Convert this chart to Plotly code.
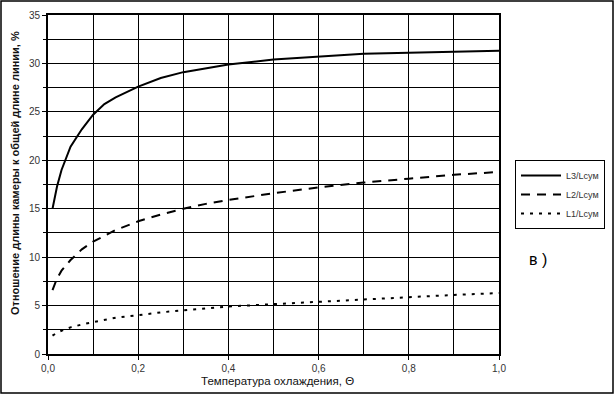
import plotly.graph_objects as go

theta = [0.01, 0.02, 0.03, 0.05, 0.075, 0.1, 0.125, 0.15, 0.2, 0.25, 0.3, 0.35, 0.4, 0.5, 0.6, 0.7, 0.8, 0.9, 1.0]
l3 = [15.0, 17.3, 19.0, 21.4, 23.2, 24.7, 25.8, 26.5, 27.6, 28.5, 29.1, 29.5, 29.9, 30.4, 30.7, 31.0, 31.1, 31.2, 31.3]
l2 = [6.6, 7.8, 8.6, 9.7, 10.8, 11.6, 12.2, 12.8, 13.7, 14.4, 15.0, 15.5, 15.9, 16.6, 17.2, 17.7, 18.1, 18.5, 18.8]
l1 = [1.9, 2.2, 2.4, 2.75, 3.05, 3.3, 3.55, 3.75, 4.0, 4.3, 4.5, 4.7, 4.9, 5.15, 5.4, 5.65, 5.9, 6.1, 6.3]
names = ["L3/Lсум", "L2/Lсум", "L1/Lсум"]

W, H = 616, 396
L, R, T, B = 48, 499, 15, 354

def px(x):
    return (x - L) / (R - L)

def py(y):
    return (B - y) / (B - T)

FONT = "Liberation Sans, Arial, sans-serif"

fig = go.Figure()
fig.add_trace(go.Scatter(x=theta, y=l3, name=names[0], mode="lines",
                         line=dict(color="black", width=2)))
fig.add_trace(go.Scatter(x=theta, y=l2, name=names[1], mode="lines",
                         line=dict(color="black", width=2, dash="9px,7px")))
fig.add_trace(go.Scatter(x=theta, y=l1, name=names[2], mode="lines",
                         line=dict(color="black", width=2, dash="3px,6px")))

fig.update_layout(
    width=W, height=H,
    margin=dict(l=L, r=W - R, t=T, b=H - B, autoexpand=False),
    paper_bgcolor="white", plot_bgcolor="white",
    separators=", ",
    font=dict(family=FONT, size=10, color="black"),
    showlegend=True,
    legend=dict(x=px(515), y=py(160), xanchor="left", yanchor="top",
                bordercolor="black", borderwidth=1, bgcolor="white",
                font=dict(family=FONT, size=9, color="#333"),
                tracegroupgap=0, itemwidth=40),
)
fig.update_xaxes(range=[0, 1], dtick=0.2, tick0=0, tickformat=".1f",
                 showgrid=True, gridcolor="black", gridwidth=1,
                 minor=dict(dtick=0.1, showgrid=True, gridcolor="black", gridwidth=1),
                 showline=True, linecolor="black", linewidth=2, mirror=True,
                 ticks="outside", ticklen=4, tickcolor="black", tickwidth=1,
                 tickfont=dict(family=FONT, size=10, color="#333"),
                 zeroline=False, fixedrange=True)
fig.update_yaxes(range=[0, 35], dtick=5, tick0=0,
                 showgrid=True, gridcolor="black", gridwidth=1,
                 minor=dict(dtick=2.5, showgrid=True, gridcolor="black", gridwidth=1,
                            ticks="outside", ticklen=3, tickcolor="black"),
                 showline=True, linecolor="black", linewidth=2, mirror=True,
                 ticks="outside", ticklen=4, tickcolor="black", tickwidth=1,
                 tickfont=dict(family=FONT, size=10, color="#333"),
                 zeroline=False, fixedrange=True)

fig.add_annotation(xref="paper", yref="paper", x=px(15), y=py(173),
                   xanchor="center", yanchor="middle",
                   text="<b>Отношение длины камеры к общей длине линии, %</b>",
                   textangle=-90, showarrow=False,
                   font=dict(family=FONT, size=11, color="#111"))
fig.add_annotation(xref="paper", yref="paper", x=px(277), y=py(381),
                   xanchor="center", yanchor="middle",
                   text="Температура охлаждения, Θ", showarrow=False,
                   font=dict(family=FONT, size=11.5, color="#111"))
fig.add_annotation(xref="paper", yref="paper", x=px(538), y=py(259),
                   xanchor="center", yanchor="middle",
                   text="в )", showarrow=False,
                   font=dict(family=FONT, size=16, color="black"))

fig.add_shape(type="rect", xref="paper", yref="paper",
              x0=px(1), x1=px(613), y0=py(393), y1=py(1),
              line=dict(color="black", width=1.5), layer="below")

fig.write_html("out.html", config={"displayModeBar": False},
               post_script="document.body.style.margin='0px';document.body.style.overflow='hidden';")
